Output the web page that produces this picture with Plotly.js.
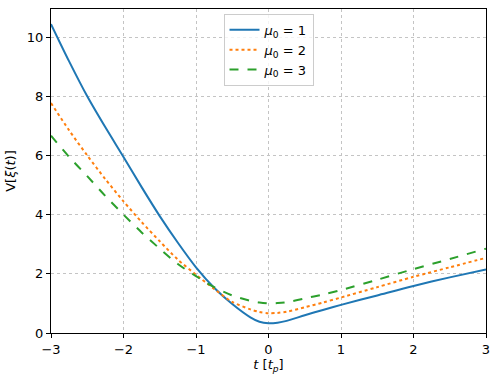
<!DOCTYPE html>
<html>
<head>
<meta charset="utf-8">
<script src="https://cdn.plot.ly/plotly-3.0.1.min.js"></script>
<style>
  html, body { margin: 0; padding: 0; background: #fff; }
  #chart { width: 499px; height: 382px; }
</style>
</head>
<body>
<div id="chart"></div>
<script>
// time in units of t_p
var t = [-3, -2.75, -2.5, -2.25, -2, -1.75, -1.5, -1.25, -1, -0.75, -0.5, -0.25, -0.125, 0, 0.125, 0.25, 0.5, 0.75, 1, 1.5, 2, 2.5, 3];

var v_mu1 = [10.44, 9.18, 8.0, 6.95, 5.95, 4.93, 3.95, 3.05, 2.22, 1.53, 0.98, 0.53, 0.38, 0.33, 0.35, 0.41, 0.6, 0.78, 0.95, 1.27, 1.59, 1.88, 2.15];
var v_mu2 = [7.77, 6.85, 6.0, 5.2, 4.45, 3.75, 3.1, 2.48, 1.97, 1.49, 1.05, 0.8, 0.71, 0.67, 0.68, 0.72, 0.87, 1.03, 1.2, 1.55, 1.9, 2.22, 2.54];
var v_mu3 = [6.67, 5.95, 5.3, 4.63, 4.0, 3.4, 2.85, 2.33, 1.92, 1.55, 1.27, 1.09, 1.03, 1.0, 1.01, 1.04, 1.17, 1.3, 1.45, 1.8, 2.16, 2.5, 2.85];

var names = ['<i>μ</i><sub>0</sub> = 1', '<i>μ</i><sub>0</sub> = 2', '<i>μ</i><sub>0</sub> = 3'];

var trace1 = {
  x: t, y: v_mu1, type: 'scatter', mode: 'lines', name: names[0],
  line: { color: '#1f77b4', width: 2, shape: 'spline', smoothing: 0.8 }
};
var trace2 = {
  x: t, y: v_mu2, type: 'scatter', mode: 'lines', name: names[1],
  line: { color: '#ff7f0e', width: 2, dash: 'dot', shape: 'spline', smoothing: 0.8 }
};
var trace3 = {
  x: t, y: v_mu3, type: 'scatter', mode: 'lines', name: names[2],
  line: { color: '#2ca02c', width: 2, dash: 'dash', shape: 'spline', smoothing: 0.8 }
};

var axisStyle = {
  showline: true,
  mirror: true,
  linecolor: '#000',
  linewidth: 1,
  ticks: 'outside',
  ticklen: 4,
  tickcolor: '#000',
  showgrid: true,
  gridcolor: '#c4c4c4',
  griddash: 'dot',
  gridwidth: 1,
  zeroline: false,
  tickfont: { size: 13, color: '#000' }
};

var layout = {
  width: 499,
  height: 382,
  margin: { l: 51, r: 13, t: 9, b: 49 },
  paper_bgcolor: '#ffffff',
  plot_bgcolor: '#ffffff',
  font: { family: 'DejaVu Sans, sans-serif', size: 13, color: '#000' },
  showlegend: true,
  legend: {
    x: 0.5, xanchor: 'center',
    y: 0.985, yanchor: 'top',
    bgcolor: 'rgba(255,255,255,0.8)',
    bordercolor: '#cccccc',
    borderwidth: 1,
    tracegroupgap: 0,
    font: { size: 13 }
  },
  xaxis: Object.assign({}, axisStyle, {
    range: [-3, 3],
    dtick: 1,
    title: { text: '<i>t</i> [<i>t</i><sub><i>p</i></sub>]', font: { size: 13 }, standoff: 4 }
  }),
  yaxis: Object.assign({}, axisStyle, {
    range: [0, 10.95],
    dtick: 2,
    title: { text: 'V[<i>ξ</i>(<i>t</i>)]', font: { size: 13 }, standoff: 8 }
  })
};

Plotly.newPlot('chart', [trace1, trace2, trace3], layout, { displayModeBar: false, staticPlot: true });
</script>
</body>
</html>
